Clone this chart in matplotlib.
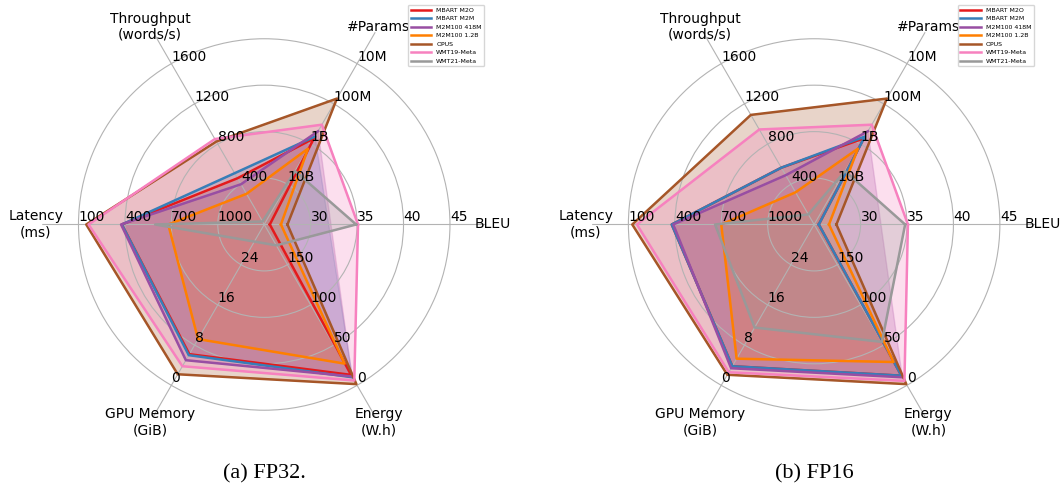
import numpy as np
import matplotlib.pyplot as plt

models = ["MBART M2O", "MBART M2M", "M2M100 418M", "M2M100 1.2B",
          "OPUS", "WMT19-Meta", "WMT21-Meta"]
colors = ["#e41a1c", "#377eb8", "#984ea3", "#ff7f00",
          "#a65628", "#f781bf", "#999999"]

axis_names = ["BLEU", "#Params", "Throughput\n(words/s)", "Latency\n(ms)",
              "GPU Memory\n(GiB)", "Energy\n(W.h)"]
tick_labels = [["30", "35", "40", "45"],
               ["10B", "1B", "100M", "10M"],
               ["400", "800", "1200", "1600"],
               ["1000", "700", "400", "100"],
               ["24", "16", "8", "0"],
               ["150", "100", "50", "0"]]

# number of parameters (same for both precisions)
params = [7.2e8, 6.5e8, 4.8e8, 1.3e9, 7.4e7, 3.3e8, 4.7e9]

# FP32 (nan = below the BLEU axis range, not drawn)
bleu_fp32 = [25.6, np.nan, np.nan, 26.8, 27.5, 35.1, 34.9]
throughput_fp32 = [460, 510, 400, 305, 825, 850, 30]
latency_fp32 = [380, 380, 375, 680, 150, 165, 595]
memory_fp32 = [6.2, 6.0, 5.0, 9.2, 2.2, 3.8, 28.6]
energy_fp32 = [13, 10, 11, 27, 1.5, 6, 174]

# FP16
bleu_fp16 = [25.5, 25.5, np.nan, 26.6, 27.4, 35.1, 34.8]
throughput_fp16 = [565, 565, 490, 320, 1090, 945, 100]
latency_fp16 = [380, 380, 390, 700, 125, 155, 660]
memory_fp16 = [3.8, 3.8, 3.4, 5.3, 2.1, 2.6, 11.5]
energy_fp16 = [12, 12, 10, 29, 1.5, 5.5, 54]

angles = np.deg2rad([0, 60, 120, 180, 240, 300])


def to_radius(bleu, thr, lat, mem, energy):
    # every axis has its own scale, rings are at r = 1..4
    r = np.array([
        (np.array(bleu) - 25) / 5,
        11 - np.log10(params),
        np.array(thr) / 400,
        (1300 - np.array(lat)) / 300,
        (32 - np.array(mem)) / 8,
        (200 - np.array(energy)) / 50,
    ])
    r[r < 0] = np.nan
    return r


def draw_radar(ax, radii, caption, cx):
    ax.set_ylim(0, 4.78)
    ax.set_xticks(angles)
    ax.set_xticklabels([])
    ax.set_yticks([1, 2, 3, 4])
    ax.set_yticklabels([])
    ax.grid(color="#b3b3b3", linewidth=0.8)
    ax.spines["polar"].set_visible(False)

    for i in range(6):
        for k in range(4):
            ax.text(angles[i], k + 1, tick_labels[i][k], ha="left", va="bottom",
                    fontsize=10, zorder=10)
        ax.text(angles[i], 4.92, axis_names[i], ha="center", va="center",
                fontsize=10)

    theta = np.r_[angles, angles[0]]
    for j in range(len(models)):
        r = radii[:, j]
        ax.plot(theta, np.r_[r, r[0]], color=colors[j], lw=1.8, label=models[j])
        ok = ~np.isnan(r)
        ax.fill(angles[ok], r[ok], color=colors[j], alpha=0.25)

    ax.legend(loc="upper right", bbox_to_anchor=(cx + 0.207, 0.99),
              bbox_transform=fig.transFigure, fontsize=4.5, handlelength=3.3,
              borderaxespad=0)
    fig.text(cx, 0.025, caption, ha="center", va="center", fontsize=16,
             family="Liberation Serif")


fig = plt.figure(figsize=(10.62, 4.86), dpi=100)

ax1 = fig.add_axes([0.0398, 0.0813, 0.418, 0.9136], projection="polar")
draw_radar(ax1, to_radius(bleu_fp32, throughput_fp32, latency_fp32,
                          memory_fp32, energy_fp32), "(a) FP32.", 0.2489)

ax2 = fig.add_axes([0.5576, 0.0813, 0.418, 0.9136], projection="polar")
draw_radar(ax2, to_radius(bleu_fp16, throughput_fp16, latency_fp16,
                          memory_fp16, energy_fp16), "(b) FP16", 0.7667)

fig.savefig("out.png", dpi=100)
